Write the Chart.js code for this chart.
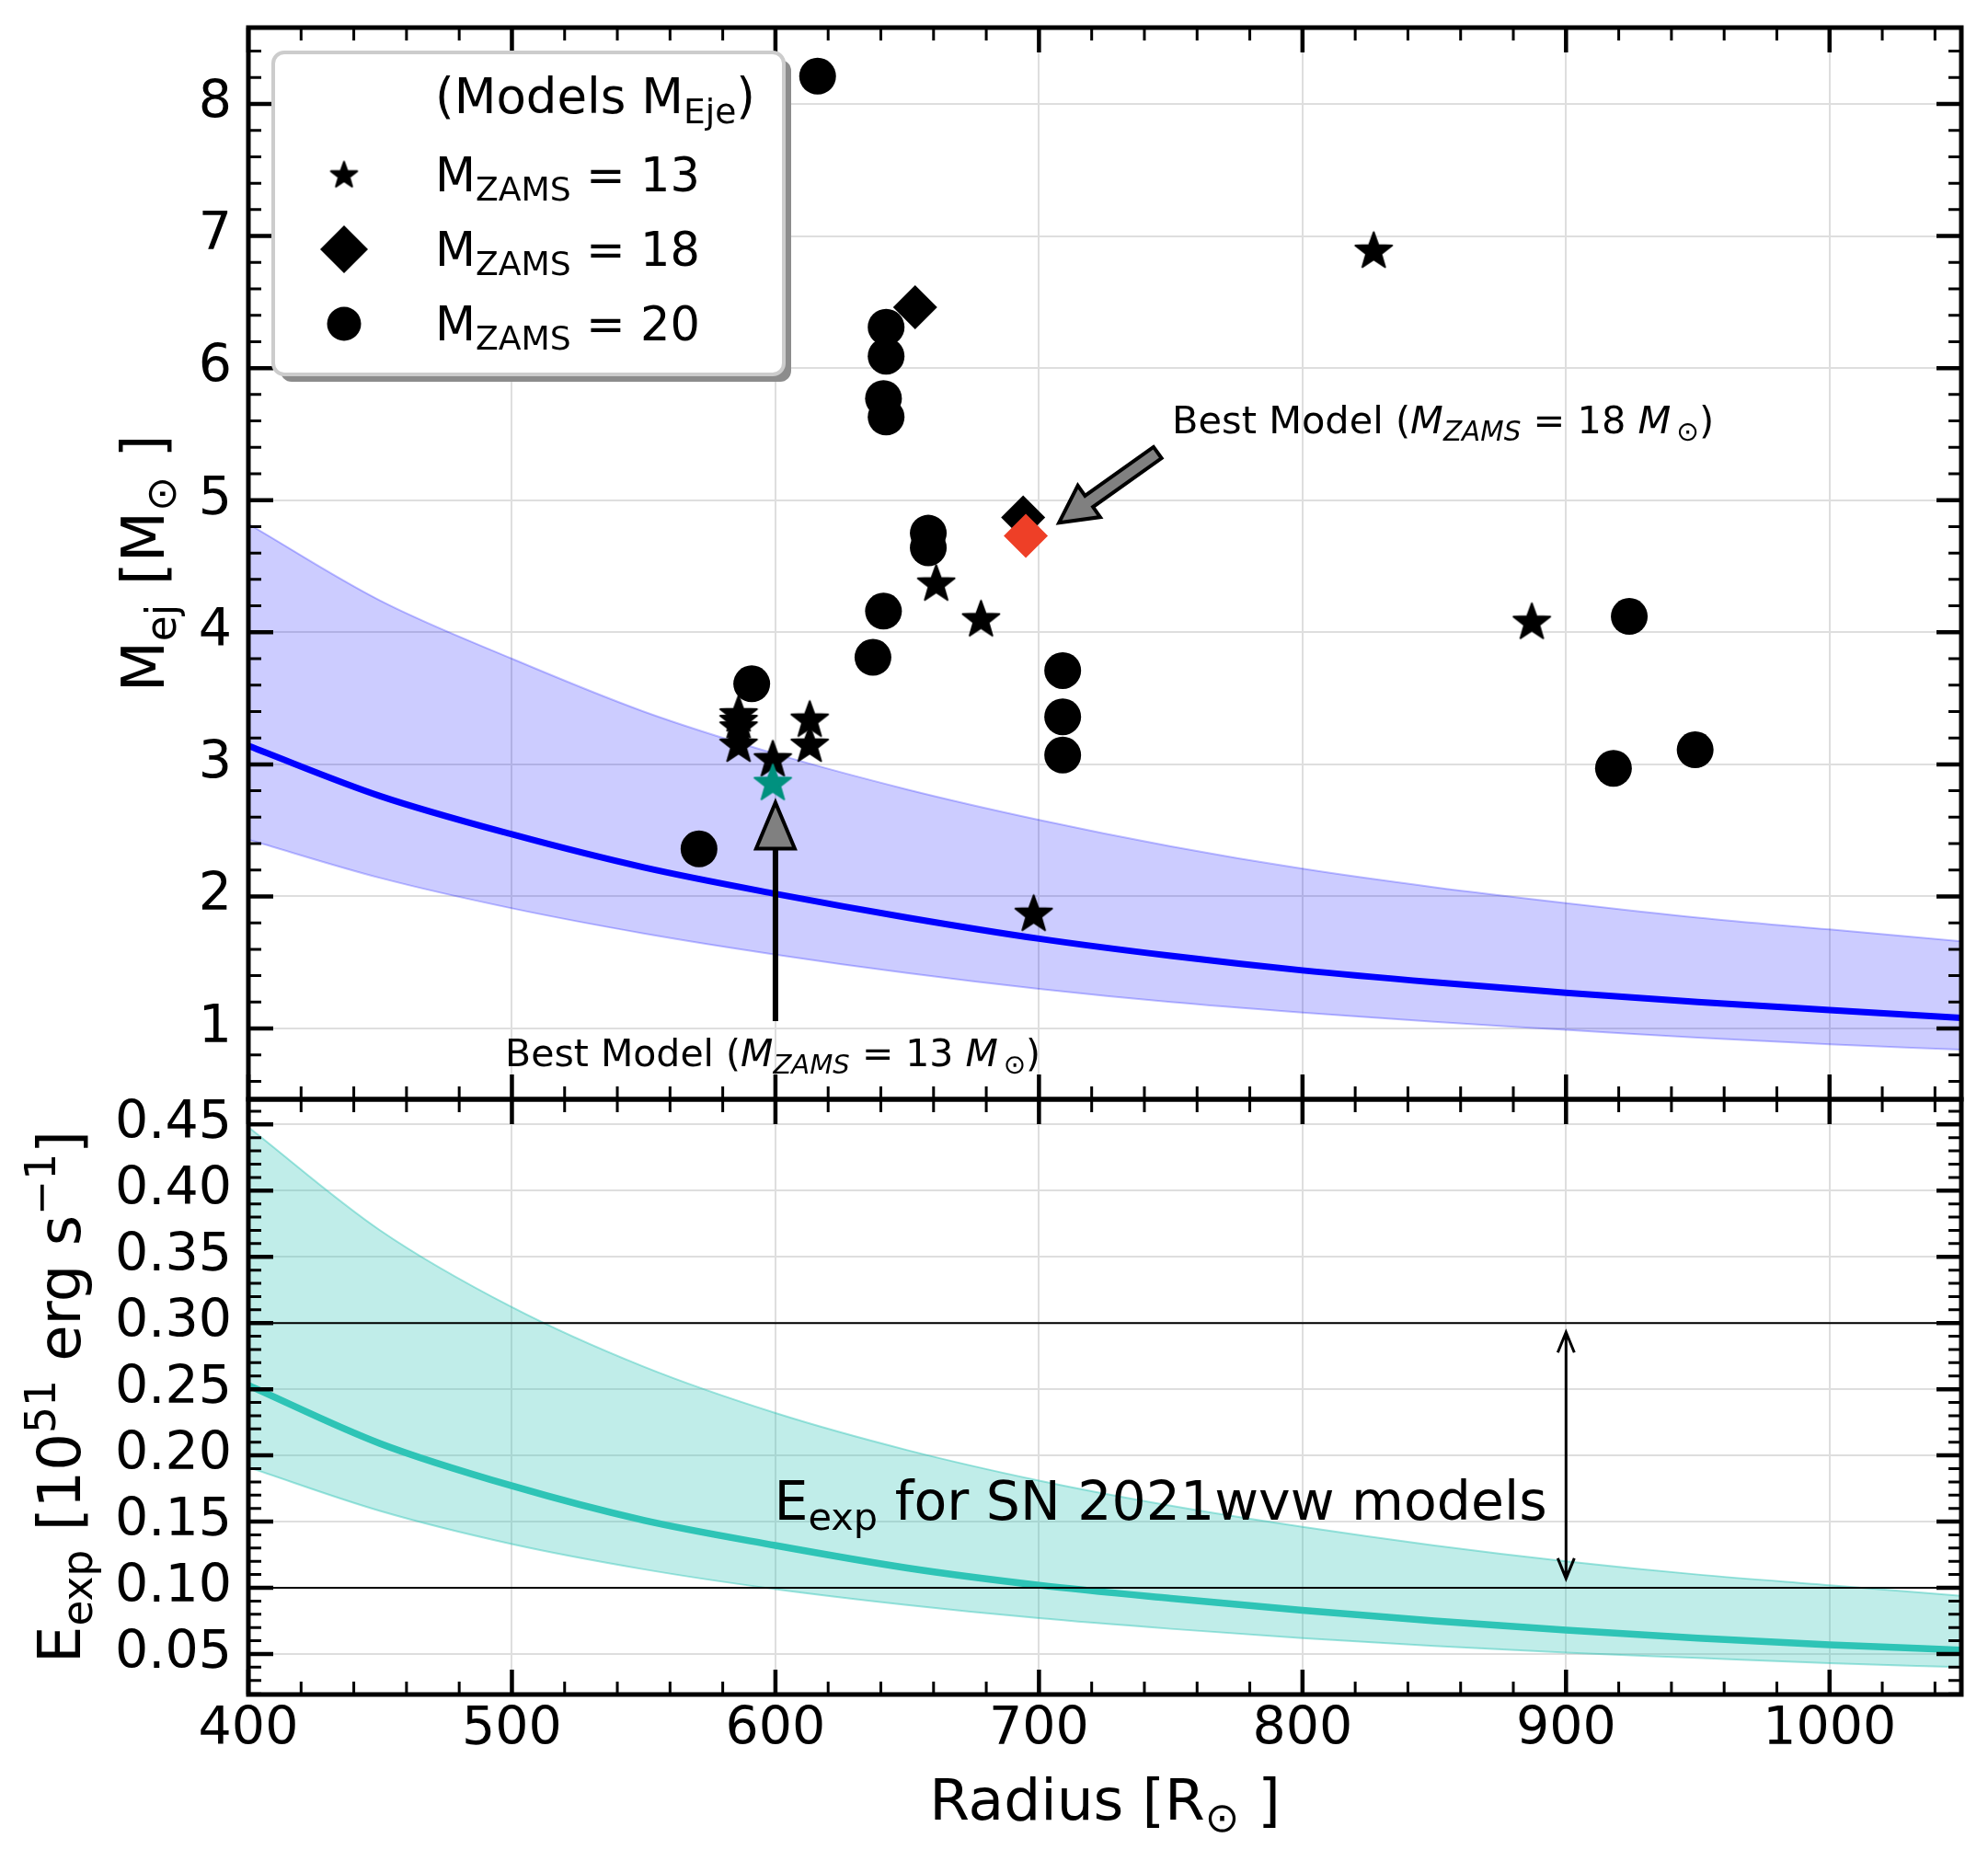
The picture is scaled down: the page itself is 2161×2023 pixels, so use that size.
<!DOCTYPE html>
<html>
<head>
<meta charset="utf-8">
<script src="https://cdn.jsdelivr.net/npm/chart.js@4.4.1/dist/chart.umd.min.js"></script>
<style>
  html, body { margin: 0; padding: 0; background: #fff; }
  #wrap { position: relative; width: 2161px; height: 2023px; }
  canvas { position: absolute; left: 0; top: 0; }
</style>
</head>
<body>
<div id="wrap">
  <canvas id="bottomPanel" width="2161" height="2023"></canvas>
  <canvas id="topPanel" width="2161" height="2023"></canvas>
</div>
<script>
// ---- data ----
const radiusGrid = [400, 450, 500, 550, 600, 650, 700, 750, 800, 850, 900, 950, 1000, 1050];
const mejMid  = [3.14, 2.76, 2.47, 2.22, 2.02, 1.84, 1.68, 1.55, 1.44, 1.35, 1.27, 1.20, 1.14, 1.08];
const mejHigh = [4.82, 4.24, 3.80, 3.40, 3.08, 2.81, 2.58, 2.38, 2.21, 2.07, 1.95, 1.84, 1.75, 1.66];
const mejLow  = [2.43, 2.14, 1.91, 1.72, 1.56, 1.42, 1.30, 1.20, 1.12, 1.05, 0.99, 0.93, 0.88, 0.84];
const eexpMid  = [0.253, 0.209, 0.177, 0.151, 0.132, 0.115, 0.102, 0.092, 0.083, 0.075, 0.068, 0.062, 0.057, 0.053];
const eexpHigh = [0.448, 0.370, 0.312, 0.267, 0.232, 0.204, 0.181, 0.162, 0.146, 0.132, 0.120, 0.110, 0.102, 0.094];
const eexpLow  = [0.191, 0.158, 0.133, 0.114, 0.099, 0.087, 0.077, 0.069, 0.062, 0.056, 0.051, 0.047, 0.043, 0.040];

// models M_ZAMS = 13 (stars)
const starR = [586, 586, 586, 586, 599, 613, 613, 661, 678, 698, 827, 887];
const starM = [3.38, 3.33, 3.28, 3.15, 3.04, 3.34, 3.15, 4.37, 4.10, 1.87, 6.89, 4.08];
// models M_ZAMS = 18 (diamonds)
const diamondR = [653, 694];
const diamondM = [6.46, 4.87];
// models M_ZAMS = 20 (circles)
const circleR = [616, 642, 642, 641, 642, 658, 658, 641, 637, 591, 571, 709, 709, 709, 924, 918, 949];
const circleM = [8.21, 6.31, 6.09, 5.77, 5.63, 4.75, 4.64, 4.16, 3.81, 3.61, 2.36, 3.71, 3.36, 3.07, 4.12, 2.97, 3.11];
// best models
const best13R = [599], best13M = [2.86];
const best18R = [695], best18M = [4.73];

// explosion energy limits for SN 2021wvw
const eexpLimits = [0.30, 0.10];

// ticks
const xTicks = [400, 500, 600, 700, 800, 900, 1000];
const mejTicks = [1, 2, 3, 4, 5, 6, 7, 8];
const eexpTicks = [0.05, 0.10, 0.15, 0.20, 0.25, 0.30, 0.35, 0.40, 0.45];

// annotation anchors (data coords)
const arrow13 = [[600, 1.07], [600, 2.71]];
const arrow18 = [[745, 5.36], [707.6, 4.83]];
const note13At = [599, 0.716];
const note18At = [750.5, 5.51];
const eexpArrow = [[900, 0.107], [900, 0.293]];
const eexpNoteAt = [599.5, 0.1516];

const X_MIN = 400, X_MAX = 1050;
const FONT = 'DejaVu Sans';

// ---- helpers ----
const pts = (xs, ys) => xs.map((v, i) => ({ x: v, y: ys[i] }));
const T = (t, o) => Object.assign({ t: t }, o || {});

function drawRich(ctx, parts, x, y, size, align) {
  const segs = parts.map(p => {
    const s = (p.sub || p.sup) ? size * 0.71 : size;
    const f = (p.it ? 'italic ' : '') + s + 'px "' + FONT + '"';
    ctx.font = f;
    return { t: p.t, f: f, w: ctx.measureText(p.t).width, dy: p.sub ? size * 0.2 : (p.sup ? -size * 0.42 : 0) };
  });
  const total = segs.reduce((a, s) => a + s.w, 0);
  let cx = align === 'center' ? x - total / 2 : (align === 'right' ? x - total : x);
  ctx.textAlign = 'left';
  ctx.textBaseline = 'alphabetic';
  ctx.fillStyle = '#000';
  segs.forEach(s => { ctx.font = s.f; ctx.fillText(s.t, cx, y + s.dy); cx += s.w; });
  return total;
}

function makeStar(size, color) {
  const c = document.createElement('canvas');
  c.width = c.height = size;
  const g = c.getContext('2d');
  const R = size / 2 - 1.5, r = R * 0.41, cx = size / 2, cy = size / 2 + R * 0.05;
  g.beginPath();
  for (let i = 0; i < 10; i++) {
    const a = -Math.PI / 2 + i * Math.PI / 5;
    const rad = i % 2 ? r : R;
    g.lineTo(cx + rad * Math.cos(a), cy + rad * Math.sin(a));
  }
  g.closePath();
  g.fillStyle = color;
  g.fill();
  g.lineJoin = 'round';
  g.lineWidth = 2;
  g.strokeStyle = color;
  g.stroke();
  return c;
}

const starImg = makeStar(45, '#000');
const starLegend = makeStar(33, '#000');
const starBest = makeStar(45, '#00917f');

function blockArrow(ctx, x0, y0, x1, y1, shaftW, headW, headL) {
  const dx = x1 - x0, dy = y1 - y0, len = Math.hypot(dx, dy);
  const ux = dx / len, uy = dy / len, px = -uy, py = ux;
  const bx = x1 - ux * headL, by = y1 - uy * headL;
  ctx.beginPath();
  ctx.moveTo(x0 + px * shaftW / 2, y0 + py * shaftW / 2);
  ctx.lineTo(bx + px * shaftW / 2, by + py * shaftW / 2);
  ctx.lineTo(bx + px * headW / 2, by + py * headW / 2);
  ctx.lineTo(x1, y1);
  ctx.lineTo(bx - px * headW / 2, by - py * headW / 2);
  ctx.lineTo(bx - px * shaftW / 2, by - py * shaftW / 2);
  ctx.lineTo(x0 - px * shaftW / 2, y0 - py * shaftW / 2);
  ctx.closePath();
  ctx.fillStyle = '#808080';
  ctx.fill();
  ctx.lineJoin = 'miter';
  ctx.lineWidth = 4;
  ctx.strokeStyle = '#000';
  ctx.stroke();
}

function minorValues(min, max, step) {
  const out = [];
  for (let v = Math.ceil(min / step - 1e-9) * step; v <= max + 1e-9; v += step) out.push(v);
  return out;
}

// fixed axis boxes so both panels line up exactly
function fixY(s) { s.width = 270; s.paddingTop = 0; s.paddingBottom = 0; }
function fixXTop(s) { s.height = 0; s.paddingLeft = 0; s.paddingRight = 0; }
function fixXBottom(s) { s.height = 181; s.paddingLeft = 0; s.paddingRight = 0; }

// matplotlib-like frame with inward ticks on all four sides
const framePlugin = {
  id: 'frame',
  afterDraw(chart, args, opts) {
    const { ctx, chartArea: a, scales: { x, y } } = chart;
    ctx.save();
    ctx.strokeStyle = '#000';
    const tick = (p, isX, len, lw) => {
      ctx.lineWidth = lw;
      ctx.beginPath();
      if (isX) {
        ctx.moveTo(p, a.top); ctx.lineTo(p, a.top + len);
        ctx.moveTo(p, a.bottom); ctx.lineTo(p, a.bottom - len);
      } else {
        ctx.moveTo(a.left, p); ctx.lineTo(a.left + len, p);
        ctx.moveTo(a.right, p); ctx.lineTo(a.right - len, p);
      }
      ctx.stroke();
    };
    minorValues(x.min, x.max, opts.xMinor).forEach(v => tick(x.getPixelForValue(v), true, 14, 3));
    minorValues(y.min, y.max, opts.yMinor).forEach(v => tick(y.getPixelForValue(v), false, 14, 3));
    x.ticks.forEach(t => tick(x.getPixelForValue(t.value), true, 27, 4.5));
    y.ticks.forEach(t => tick(y.getPixelForValue(t.value), false, 27, 4.5));
    ctx.lineWidth = 5;
    ctx.strokeRect(a.left, a.top, a.right - a.left, a.bottom - a.top);
    ctx.restore();
  }
};

const topNotes = {
  id: 'topNotes',
  afterDraw(chart) {
    const { ctx, chartArea: a, scales: { x, y } } = chart;
    ctx.save();
    // arrows pointing at the best models
    blockArrow(ctx, x.getPixelForValue(arrow13[0][0]), y.getPixelForValue(arrow13[0][1]),
      x.getPixelForValue(arrow13[1][0]), y.getPixelForValue(arrow13[1][1]), 2, 42, 50);
    blockArrow(ctx, x.getPixelForValue(arrow18[0][0]), y.getPixelForValue(arrow18[0][1]),
      x.getPixelForValue(arrow18[1][0]), y.getPixelForValue(arrow18[1][1]), 15, 42, 40);
    drawRich(ctx, [T('Best Model ('), T('M', { it: 1 }), T('ZAMS', { it: 1, sub: 1 }), T(' = 13 '),
      T('M', { it: 1 }), T('\u2009\u2299', { sub: 1 }), T(')')],
      x.getPixelForValue(note13At[0]), y.getPixelForValue(note13At[1]), 41, 'center');
    drawRich(ctx, [T('Best Model ('), T('M', { it: 1 }), T('ZAMS', { it: 1, sub: 1 }), T(' = 18 '),
      T('M', { it: 1 }), T('\u2009\u2299', { sub: 1 }), T(')')],
      x.getPixelForValue(note18At[0]), y.getPixelForValue(note18At[1]), 41.5, 'left');

    // legend
    const lx = a.left + 27, ly = a.top + 27, lw = 555, lh = 350;
    ctx.fillStyle = '#8c8c8c';
    ctx.beginPath(); ctx.roundRect(lx + 8, ly + 8, lw, lh, 12); ctx.fill();
    ctx.fillStyle = '#fff';
    ctx.beginPath(); ctx.roundRect(lx, ly, lw, lh, 12); ctx.fill();
    ctx.strokeStyle = '#cccccc'; ctx.lineWidth = 4; ctx.stroke();
    const tx = lx + 176, mx = lx + 77;
    drawRich(ctx, [T('(Models M'), T('Eje', { sub: 1 }), T(')')], tx, ly + 66, 53, 'left');
    const rows = [
      { num: '13', style: starLegend, r: 16 },
      { num: '18', style: 'rectRot', r: 26 },
      { num: '20', style: 'circle', r: 18.5 }
    ];
    rows.forEach((row, i) => {
      const by = ly + 151 + i * 81;
      ctx.fillStyle = '#000';
      Chart.helpers.drawPoint(ctx, { pointStyle: row.style, radius: row.r, rotation: 0, borderWidth: 0 }, mx, by - 18);
      drawRich(ctx, [T('M'), T('ZAMS', { sub: 1 }), T(' = ' + row.num)], tx, by, 51, 'left');
    });

    // y axis title
    ctx.save();
    ctx.translate(178, (a.top + a.bottom) / 2);
    ctx.rotate(-Math.PI / 2);
    drawRich(ctx, [T('M'), T('ej', { sub: 1 }), T(' [M'), T('\u2299', { sub: 1 }), T(' ]')], 0, 0, 64, 'center');
    ctx.restore();
    ctx.restore();
  }
};

const bottomNotes = {
  id: 'bottomNotes',
  afterDraw(chart) {
    const { ctx, chartArea: a, scales: { x, y } } = chart;
    ctx.save();
    // double-headed arrow between the limits
    const ax = x.getPixelForValue(eexpArrow[0][0]);
    const y0 = y.getPixelForValue(eexpArrow[0][1]), y1 = y.getPixelForValue(eexpArrow[1][1]);
    ctx.strokeStyle = '#000';
    ctx.lineWidth = 3;
    ctx.beginPath();
    ctx.moveTo(ax, y0); ctx.lineTo(ax, y1);
    ctx.moveTo(ax - 9, y1 + 22); ctx.lineTo(ax, y1); ctx.lineTo(ax + 9, y1 + 22);
    ctx.moveTo(ax - 9, y0 - 22); ctx.lineTo(ax, y0); ctx.lineTo(ax + 9, y0 - 22);
    ctx.stroke();
    drawRich(ctx, [T('E'), T('exp', { sub: 1 }), T(' for SN 2021wvw models')],
      x.getPixelForValue(eexpNoteAt[0]), y.getPixelForValue(eexpNoteAt[1]), 58.5, 'left');

    // axis titles
    drawRich(ctx, [T('Radius [R'), T('\u2299', { sub: 1 }), T(' ]')], (a.left + a.right) / 2, 1978, 63, 'center');
    ctx.translate(87, (a.top + a.bottom) / 2);
    ctx.rotate(-Math.PI / 2);
    drawRich(ctx, [T('E'), T('exp', { sub: 1 }), T(' [10'), T('51', { sup: 1 }), T(' erg s'), T('\u22121', { sup: 1 }), T(']')], 0, 0, 64, 'center');
    ctx.restore();
  }
};

const gridStyle = { color: '#dedede', lineWidth: 2, drawTicks: false };
const tickFont = { family: FONT, size: 57 };

// ---- top panel: ejected mass ----
new Chart(document.getElementById('topPanel'), {
  type: 'scatter',
  data: {
    datasets: [
      { type: 'line', data: pts(radiusGrid, mejHigh), borderColor: 'rgba(0,0,255,0.25)', borderWidth: 2,
        pointRadius: 0, fill: false, cubicInterpolationMode: 'monotone', order: 6 },
      { type: 'line', data: pts(radiusGrid, mejLow), borderColor: 'rgba(0,0,255,0.25)', borderWidth: 2,
        pointRadius: 0, fill: '-1', backgroundColor: 'rgba(0,0,255,0.2)', cubicInterpolationMode: 'monotone', order: 5 },
      { type: 'line', data: pts(radiusGrid, mejMid), borderColor: '#0000ff', borderWidth: 7,
        pointRadius: 0, fill: false, cubicInterpolationMode: 'monotone', order: 4 },
      { data: pts(circleR, circleM), pointStyle: 'circle', pointRadius: 20, backgroundColor: '#000', borderWidth: 0, order: 3 },
      { data: pts(starR, starM), pointStyle: starImg, pointRadius: 20, backgroundColor: '#000', borderWidth: 0, order: 3 },
      { data: pts(diamondR, diamondM), pointStyle: 'rectRot', pointRadius: 24, backgroundColor: '#000', borderWidth: 0, order: 3 },
      { data: pts(best13R, best13M), pointStyle: starBest, pointRadius: 20, backgroundColor: '#00917f', borderWidth: 0, order: 1 },
      { data: pts(best18R, best18M), pointStyle: 'rectRot', pointRadius: 24, backgroundColor: '#ee3f27', borderWidth: 0, order: 1 }
    ]
  },
  options: {
    responsive: false,
    animation: false,
    devicePixelRatio: 1,
    layout: { padding: { left: 0, right: 29, top: 30, bottom: 828 } },
    plugins: { legend: { display: false }, tooltip: { enabled: false }, frame: { xMinor: 20, yMinor: 0.2 } },
    scales: {
      x: {
        type: 'linear', min: X_MIN, max: X_MAX,
        afterFit: fixXTop,
        afterBuildTicks: s => { s.ticks = xTicks.map(v => ({ value: v })); },
        ticks: { display: false },
        grid: gridStyle,
        border: { display: false }
      },
      y: {
        type: 'linear', min: 0.464, max: 8.578,
        afterFit: fixY,
        afterBuildTicks: s => { s.ticks = mejTicks.map(v => ({ value: v })); },
        ticks: { font: tickFont, color: '#000', padding: 18, autoSkip: false, callback: v => String(v) },
        grid: gridStyle,
        border: { display: false }
      }
    }
  },
  plugins: [framePlugin, topNotes]
});

// ---- bottom panel: explosion energy ----
new Chart(document.getElementById('bottomPanel'), {
  type: 'scatter',
  data: {
    datasets: [
      { type: 'line', data: pts(radiusGrid, eexpHigh), borderColor: 'rgba(46,196,182,0.45)', borderWidth: 2,
        pointRadius: 0, fill: false, cubicInterpolationMode: 'monotone', order: 6 },
      { type: 'line', data: pts(radiusGrid, eexpLow), borderColor: 'rgba(46,196,182,0.45)', borderWidth: 2,
        pointRadius: 0, fill: '-1', backgroundColor: 'rgba(46,196,182,0.3)', cubicInterpolationMode: 'monotone', order: 5 },
      { type: 'line', data: pts(radiusGrid, eexpMid), borderColor: '#2ec4b6', borderWidth: 7.5,
        pointRadius: 0, fill: false, cubicInterpolationMode: 'monotone', order: 4 },
      { type: 'line', data: [{ x: X_MIN, y: eexpLimits[0] }, { x: X_MAX, y: eexpLimits[0] }], borderColor: '#000',
        borderWidth: 2, pointRadius: 0, fill: false, order: 2 },
      { type: 'line', data: [{ x: X_MIN, y: eexpLimits[1] }, { x: X_MAX, y: eexpLimits[1] }], borderColor: '#000',
        borderWidth: 2, pointRadius: 0, fill: false, order: 2 }
    ]
  },
  options: {
    responsive: false,
    animation: false,
    devicePixelRatio: 1,
    layout: { padding: { left: 0, right: 29, top: 1195, bottom: 0 } },
    plugins: { legend: { display: false }, tooltip: { enabled: false }, frame: { xMinor: 20, yMinor: 0.01 } },
    scales: {
      x: {
        type: 'linear', min: X_MIN, max: X_MAX,
        afterFit: fixXBottom,
        afterBuildTicks: s => { s.ticks = xTicks.map(v => ({ value: v })); },
        ticks: { font: tickFont, color: '#000', padding: 5, maxRotation: 0, autoSkip: false, callback: v => String(v) },
        grid: gridStyle,
        border: { display: false }
      },
      y: {
        type: 'linear', min: 0.0194, max: 0.469,
        afterFit: fixY,
        afterBuildTicks: s => { s.ticks = eexpTicks.map(v => ({ value: v })); },
        ticks: { font: tickFont, color: '#000', padding: 18, autoSkip: false, callback: v => v.toFixed(2) },
        grid: gridStyle,
        border: { display: false }
      }
    }
  },
  plugins: [framePlugin, bottomNotes]
});
</script>
</body>
</html>
